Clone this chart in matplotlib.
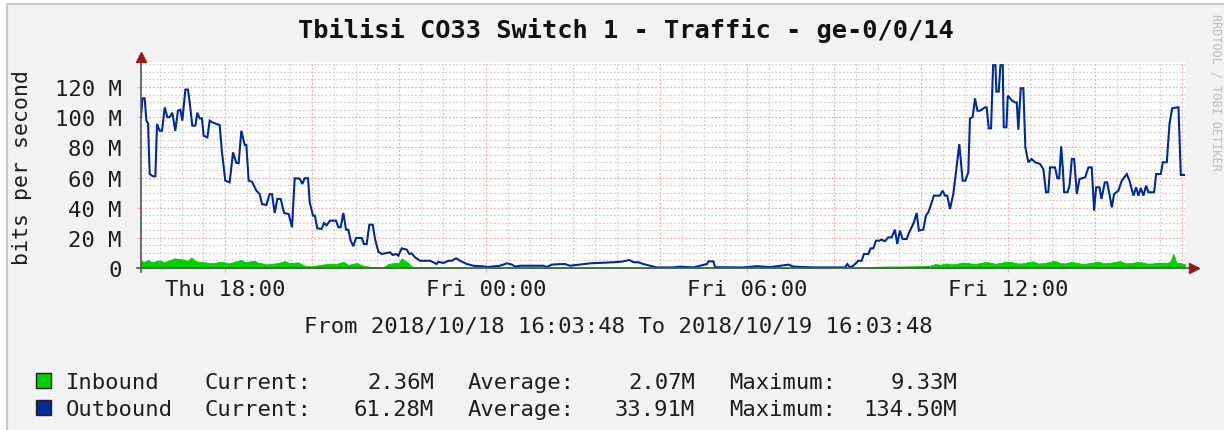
import numpy as np
import matplotlib
matplotlib.use("Agg")
import matplotlib.pyplot as plt
from matplotlib.patches import Rectangle
from matplotlib.lines import Line2D
from matplotlib.transforms import offset_copy

# ---------------- data ----------------
title = "Tbilisi CO33 Switch 1 - Traffic - ge-0/0/14"
ylabel = "bits per second"
period_text = "From 2018/10/18 16:03:48 To 2018/10/19 16:03:48"
start_minute_of_day = 16 * 60 + 3 + 48 / 60.0   # 16:03:48
span_minutes = 24 * 60

xtick_labels = ["Thu 18:00", "Fri 00:00", "Fri 06:00", "Fri 12:00"]
xtick_clock = [18 * 60, 24 * 60, 30 * 60, 36 * 60]          # minutes since Thu 00:00
ytick_values = [0, 20, 40, 60, 80, 100, 120]
ytick_labels = ["0", "20 M", "40 M", "60 M", "80 M", "100 M", "120 M"]

# Outbound (Mbit/s) – minutes since start
out_t = [0, 2, 5.1, 7.4, 9.7, 12, 16.6, 19.8, 22.1, 25.8, 29, 32.7, 36.4, 39.5, 43.2, 47.3, 51, 54.3,
         57, 61.2, 64.8, 67.1, 70.8, 75, 77.7, 80.9, 84.1, 86.4, 91.5, 94.7, 99.3, 108.5, 111.7,
         116.3, 122.3, 126.9, 131.5, 134.7, 138.4, 143, 145.3, 148.5, 153.1, 159.1, 163.7, 166.9,
         172.9, 177.5, 180.7, 184.4, 188.1, 192.7, 197.3, 203.7, 208.3, 212, 218.9, 222.6, 225.8,
         230.4, 232.7, 237.3,
         239.9, 243.1, 249.1, 252.4, 256, 260.7, 269, 272.2, 275.4, 279.1, 282.8, 286, 289.2, 292.9,
         296.6, 304.4, 307.6, 311.3, 315, 319.6, 322.8, 327.4, 332, 336.6, 343.5, 347.2, 351.8, 355,
         359.6, 366.5, 370.1, 373.4, 378, 384.9, 398.7, 407.9, 410.2, 417.1, 424, 428.6, 434.6,
         440.1, 449.3, 458.5,
         472.3, 479.2, 495.2, 504.8, 511.4, 516, 522.8, 555, 559.6, 566.5, 578, 584.9, 591.8, 614.8,
         619.4, 651.6, 663.1, 673.7, 679.2, 686.1, 693, 702.2, 711.4, 734.4, 743.6, 762, 780.4,
         782.7, 789.6, 791.9, 831, 849.4, 867.8, 893.1, 900, 927.6, 955.2, 964.1,
         971, 974.2, 977.9, 982.5, 989.4, 994, 997.2, 1003.2, 1006.4, 1010.1, 1013.7, 1018.3,
         1021.5, 1026.1, 1030.7, 1035.3, 1039.9, 1043.1, 1046.8, 1050.5, 1056, 1059.7, 1062.9,
         1066.1, 1069.8, 1073, 1079, 1082.6, 1085.9, 1089.1, 1093.7, 1102, 1105.7, 1108.9, 1112.1,
         1115.8, 1120.4, 1124.1, 1128.7, 1133.3, 1137, 1141.1, 1143.4, 1147.1, 1150.4, 1153.6,
         1157.3, 1164.2, 1166.5, 1169.3, 1172.5, 1175.3, 1178.5, 1179.9, 1183.1, 1185.4, 1188.6,
         1190, 1193.7, 1195.5, 1201.5,
         1205.5, 1208, 1210.1, 1213.4, 1217, 1219.8, 1223.9, 1228.5, 1233.1, 1240, 1244.6, 1248.3,
         1251.5, 1253.8, 1260.7, 1264, 1266.5, 1269.2, 1271.5, 1273.3, 1277.9, 1280.7, 1283.9,
         1287.1, 1290.8, 1294.4, 1302.2, 1306.8, 1311.4, 1314.6, 1317.4, 1322, 1324.8, 1329.4,
         1332.6, 1335.8, 1339, 1342.2, 1348.2, 1352.8, 1359.7, 1363.4, 1368.9, 1372.6, 1375.8,
         1379, 1382.7, 1386.4, 1389.6, 1397.4, 1400.2, 1406.6, 1409.4, 1414.9, 1418.6, 1422.3,
         1431, 1434.2, 1440]
out_v = [100, 112.5, 112.5, 97.7, 96, 62.3, 60.8, 60.8, 95.5, 91, 91, 106.5, 100, 100, 103, 91, 104.3,
         105, 97.7, 118.3, 118.3, 110, 94.4, 94.4, 103, 99.2, 99.2, 87.7, 86.6, 97.7, 96.4, 94.8,
         76.7, 57.9, 56.8, 76.7, 69.6, 69.6, 91, 81.6, 81.6, 57.9, 57.2, 51.3, 49, 42.4, 41.8, 49,
         49, 36.5, 45.8, 45.8, 36.5, 35.8, 27, 59.5, 59.3, 55.7, 59.5, 59.5, 43.5, 34.7,
         34.7, 26.3, 25.9, 29.8, 28.3, 31.4, 31.4, 27, 27, 36.5, 25.4, 25.4, 18.1, 14.4, 19.9,
         19.9, 15.9, 15.9, 28.7, 28.7, 19.2, 10.8, 9.3, 9.7, 10.4, 8.6, 9.3, 8.2, 13.0, 12.2, 9.3,
         9.7, 7.1, 4.8, 4.8, 2.7, 4.1, 3.3, 4.8, 4.8, 6.4, 4.8, 2.7, 1.5,
         1.1, 0.7, 1.5, 3.1, 2.3, 0.9, 1.5, 1.5, 0.7, 2.2, 2.6, 2.6, 1.5, 2.8, 3.1, 3.8, 4.2, 5.3,
         3.8, 3.8, 2.6, 1.5, 0.4, 0.4, 0.9, 0.4, 2.6, 4.4, 4.4, 0.5, 0.4, 1.2, 0.6, 2.2, 0.9, 0.4,
         0.4, 0.4,
         0.4, 2.6, 0.4, 1.5, 4.8, 4.8, 9.3, 9.3, 13.0, 13.0, 18.1, 18.1, 18.8, 17.7, 20.3, 20.3,
         25.4, 15.9, 24.8, 19.2, 19.2, 23.7, 27, 30.3, 36.5, 24.8, 25.4, 34.7, 36.9, 41.3, 48, 48,
         51.3, 48, 48, 39.1, 49, 63.5, 82.2, 57.9, 57.9, 63.5, 99.2, 100, 112.5, 104.3, 104.3,
         106.5, 106.5, 92.6, 92.6, 134.5, 134.5, 117, 117, 134.5, 134.5, 93.3, 93.3, 114.3, 111,
         109.8, 109.8, 91.7, 119.2, 119.2, 80, 70.1, 72.3, 70.1, 69, 65.6, 50.2, 50.2, 66.7, 66.7,
         59.5, 59.5, 80.7, 65.6, 50.2, 50.2, 54.6, 72.3, 72.3, 49.1, 59, 60.1, 66.7, 66.7, 38,
         53.5, 53.5, 45.8, 56.8, 56.8, 49.1, 40.2, 49.1, 51.3, 57.9, 62.3, 57.9, 48, 53.5, 48, 53,
         48, 54.6, 50.2, 50.2, 62.3, 62.3, 70.1, 70.1, 95.5, 105.9, 106.6, 61.7, 61.7]

# Inbound (Mbit/s) – minutes since start
in_t = [0, 4, 9.7, 14, 18.4, 23, 27.6, 32, 37.2, 42, 46.4, 53.3, 59.8, 64, 69.4, 74, 78.6, 87.8, 95,
        101.6, 108, 115.4, 122, 129.2, 138.4, 143, 147.6, 156.8, 161, 166, 172, 179.8, 189, 198.2,
        203, 207.4, 216.6, 225.8, 235, 241, 246.9, 254, 260.7, 269.9, 279.1, 286, 292, 297.5,
        306.7, 316, 325.1, 334.3, 341.2, 348.1, 355, 359.6, 364.2, 368.8, 373.4, 378, 400, 500,
        600, 700, 800, 900, 1000, 1012, 1030, 1050, 1070, 1088, 1095, 1103, 1110, 1118, 1125,
        1133, 1140, 1148, 1155, 1163, 1170, 1178, 1185, 1193, 1200, 1208, 1215, 1223, 1230, 1238,
        1245, 1253, 1260, 1268, 1275, 1283, 1290, 1298, 1305, 1313, 1320, 1328, 1335, 1343, 1350,
        1358, 1365, 1373, 1380, 1388, 1395, 1403, 1410, 1416, 1420, 1424, 1428, 1434, 1440]
in_v = [4.8, 3.9, 5.3, 4.0, 4.2, 5.0, 4.8, 3.8, 4.8, 5.6, 6.4, 5.9, 5.5, 4.6, 7.0, 5.0, 4.2, 3.8, 3.2,
        3.3, 4.1, 3.8, 3.0, 4.2, 5.3, 4.0, 4.2, 4.8, 3.6, 3.3, 2.4, 2.7, 3.3, 4.6, 3.6, 3.3, 3.8,
        1.5, 1.1, 1.6, 2.0, 2.5, 2.7, 2.7, 4.2, 2.0, 2.8, 3.3, 1.5, 0.8, 0.4, 0.4, 2.7, 3.3, 3.3,
        6.4, 4.8, 3.3, 1.1, 0.4, 0.3, 0.3, 0.3, 0.3, 0.3, 0.3, 0.3, 0.8, 1.0, 1.0, 1.2, 1.5, 2.6,
        2.2, 3.0, 2.4, 2.8, 3.6, 3.4, 2.6, 3.0, 3.9, 3.7, 2.8, 3.3, 4.2, 4.0, 3.1, 3.0, 3.8, 4.4,
        3.0, 3.2, 4.0, 4.8, 3.3, 3.0, 4.1, 3.5, 2.7, 3.0, 3.6, 4.2, 3.1, 3.4, 4.0, 4.6, 3.2, 3.2,
        3.9, 3.8, 2.9, 3.0, 3.6, 3.5, 3.4, 4.5, 9.3, 3.6, 3.2, 2.4]

legend_rows = [
    ("Inbound", "#00CF00", "2.36M", "2.07M", "9.33M"),
    ("Outbound", "#002A97", "61.28M", "33.91M", "134.50M"),
]

# ---------------- style ----------------
W, H = 1224, 431
FONT = "DejaVu Sans Mono"
plt.rcParams["font.family"] = [FONT, "DejaVu Sans"]
TXT = "#1e1e1e"

fig = plt.figure(figsize=(W / 100, H / 100), dpi=100, facecolor="white")


def fx(px):
    return px / W


def fy(py):
    return 1 - py / H


# background canvas with top/left border
fig.patches.append(Rectangle((fx(7), 0), 1 - fx(7), fy(5), transform=fig.transFigure,
                             facecolor="#F2F2F2", edgecolor="none", zorder=-10))
fig.lines.append(Line2D([fx(7), 1], [fy(5), fy(5)], transform=fig.transFigure,
                        color="#C8C8C8", lw=1.5, zorder=-9))
fig.lines.append(Line2D([fx(7), fx(7)], [0, fy(5)], transform=fig.transFigure,
                        color="#C8C8C8", lw=1.5, zorder=-9))

left, right, top, bottom = 141, 1185, 63, 269
ax = fig.add_axes([fx(left), fy(bottom), fx(right - left), (bottom - top) / H])
ax.set_zorder(2)
ax.set_facecolor("white")
ymax = 136.6
ax.set_xlim(0, span_minutes)
ax.set_ylim(0, ymax)

# grid
minor_c, major_c = "#D3D3D3", "#F0B0B0"
dash = (0, (1.5, 1.5))
first_half_hour = (np.ceil(start_minute_of_day / 30) * 30) - start_minute_of_day
for t in np.arange(first_half_hour, span_minutes + 0.1, 30):
    clock = round(t + start_minute_of_day) % (24 * 60)
    is_major = (clock % 120) == 0
    ax.axvline(t, color=major_c if is_major else minor_c, lw=0.9, ls=dash, zorder=1)
for v in np.arange(5, ymax, 5):
    is_major = (v % 20) == 0
    ax.axhline(v, color=major_c if is_major else minor_c, lw=0.9, ls=dash, zorder=1)

# data
ax.fill_between(in_t, 0, in_v, color="#00CF00", lw=0.6, edgecolor="#00CF00", zorder=2)
ax.plot(out_t, out_v, color="#002A97", lw=1.5, zorder=3, solid_joinstyle="miter")

# axes lines & arrows
for s in ax.spines.values():
    s.set_visible(False)
ax.plot([-0.004, 1.012], [0, 0], transform=ax.transAxes, color="#555555", lw=1.2,
        clip_on=False, zorder=4)
ax.plot([0, 0], [-0.02, 1.02], transform=ax.transAxes, color="#555555", lw=1.2,
        clip_on=False, zorder=4)
tr_r = offset_copy(ax.transAxes, fig=fig, x=9, y=0, units="dots")
ax.plot([1], [0], marker=">", ms=7, color="#8E1B1B", transform=tr_r, clip_on=False, zorder=5)
tr_t = offset_copy(ax.transAxes, fig=fig, x=0, y=5, units="dots")
ax.plot([0], [1], marker="^", ms=7, color="#8E1B1B", transform=tr_t, clip_on=False, zorder=5)

# ticks
xtick_pos = [c - start_minute_of_day for c in xtick_clock]
ax.set_xticks(xtick_pos)
ax.set_xticklabels(xtick_labels)
ax.set_yticks(ytick_values)
ax.set_yticklabels(ytick_labels)
ax.tick_params(axis="x", length=3, width=0.8, color=major_c, pad=5, labelsize=16, labelcolor=TXT)
ax.tick_params(axis="y", length=3, width=0.8, color=major_c, pad=11, labelsize=16, labelcolor=TXT)

# texts
fig.text(fx(626), fy(38), title, ha="center", va="baseline", fontsize=18.3, color="#111111",
         fontweight="bold")
fig.text(fx(22), fy(168), ylabel, rotation=90, ha="center", va="center", fontsize=15.5, color=TXT)
fig.text(fx(618), fy(333), period_text, ha="center", va="baseline", fontsize=16, color=TXT)
fig.text(fx(1216), fy(14), "RRDTOOL / TOBI OETIKER", rotation=-90, ha="center", va="top",
         fontsize=8.5, color="#BDBDBD")

row_baselines = [389, 416]
for (name, col, cur, avg, mx), yb in zip(legend_rows, row_baselines):
    fig.patches.append(Rectangle((fx(36), fy(yb)), fx(15), 15 / H, transform=fig.transFigure,
                                 facecolor=col, edgecolor="#222222", lw=1))
    fig.text(fx(66), fy(yb), name, ha="left", va="baseline", fontsize=16, color=TXT)
    fig.text(fx(205), fy(yb), "Current:", ha="left", va="baseline", fontsize=16, color=TXT)
    fig.text(fx(434), fy(yb), cur, ha="right", va="baseline", fontsize=16, color=TXT)
    fig.text(fx(468), fy(yb), "Average:", ha="left", va="baseline", fontsize=16, color=TXT)
    fig.text(fx(695), fy(yb), avg, ha="right", va="baseline", fontsize=16, color=TXT)
    fig.text(fx(729), fy(yb), "Maximum:", ha="left", va="baseline", fontsize=16, color=TXT)
    fig.text(fx(957), fy(yb), mx, ha="right", va="baseline", fontsize=16, color=TXT)

fig.savefig("out.png", dpi=100, facecolor=fig.get_facecolor())
